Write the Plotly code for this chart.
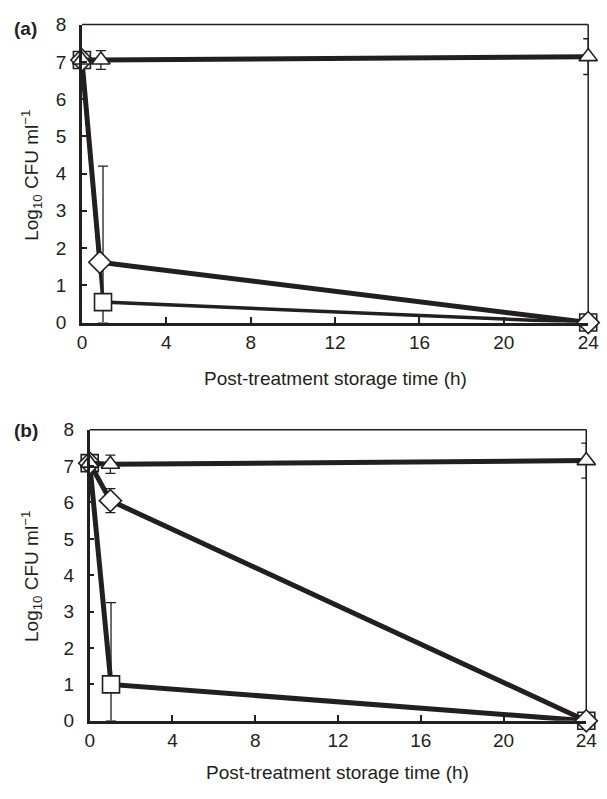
import plotly.graph_objects as go

W, H = 607, 799
INK = "#231f20"
FONT = "Liberation Sans, Arial, sans-serif"

# ---------- data ----------
# Panel (a)
a_tri_x = [0, 0.9, 24]
a_tri_y = [7.05, 7.05, 7.14]
a_tri_err = [0.0, 0.25, 0.48]

a_dia_x = [0, 0.85, 24]
a_dia_y = [7.05, 1.62, 0.0]
a_dia_err = [0.0, 0.15, 0.0]

a_sq_x = [0, 1.0, 24]
a_sq_y = [7.05, 0.55, 0.0]
a_sq_err_plus = [0.0, 3.65, 0.0]
a_sq_err_minus = [0.0, 0.55, 0.0]

# Panel (b)
b_tri_x = [0, 1.0, 24]
b_tri_y = [7.08, 7.05, 7.15]
b_tri_err = [0.0, 0.25, 0.48]

b_dia_x = [0, 1.0, 24]
b_dia_y = [7.08, 6.05, 0.0]
b_dia_err = [0.0, 0.33, 0.0]

b_sq_x = [0, 1.03, 24]
b_sq_y = [7.08, 1.0, 0.0]
b_sq_err_plus = [0.0, 2.25, 0.0]
b_sq_err_minus = [0.0, 1.0, 0.0]

x_ticks = [0, 4, 8, 12, 16, 20, 24]
y_ticks = [0, 1, 2, 3, 4, 5, 6, 7, 8]

x_title = "Post-treatment storage time (h)"
y_title = "Log<sub>10</sub> CFU ml<sup>−1</sup>"

fig = go.Figure()


def add_series(x, y, symbol, lw, xa, ya, plus, minus, size):
    fig.add_trace(go.Scatter(
        x=x, y=y, mode="lines+markers", xaxis=xa, yaxis=ya,
        line=dict(color=INK, width=lw),
        marker=dict(symbol=symbol, size=size, color="white",
                    line=dict(color=INK, width=1.6)),
        error_y=dict(type="data", symmetric=False, array=plus, arrayminus=minus,
                     color=INK, thickness=1.3, width=5),
        cliponaxis=False, showlegend=False,
    ))


# panel (a)
add_series(a_sq_x, a_sq_y, "square", 3.5, "x", "y", a_sq_err_plus, a_sq_err_minus, 17)
add_series(a_dia_x, a_dia_y, "diamond", 5, "x", "y", a_dia_err, a_dia_err, 17)
add_series(a_tri_x, a_tri_y, "triangle-up", 5, "x", "y", a_tri_err, a_tri_err, 16)
# panel (b)
add_series(b_sq_x, b_sq_y, "square", 5, "x2", "y2", b_sq_err_plus, b_sq_err_minus, 17)
add_series(b_dia_x, b_dia_y, "diamond", 5, "x2", "y2", b_dia_err, b_dia_err, 17)
add_series(b_tri_x, b_tri_y, "triangle-up", 5, "x2", "y2", b_tri_err, b_tri_err, 16)


def px_x(p):
    return p / W


def px_y(p):
    return 1 - p / H


TICKFONT = dict(size=19, color=INK, family=FONT)
xa = dict(range=[0, 24], tickvals=x_ticks, ticks="inside", ticklen=6, tickwidth=1.5,
          tickcolor=INK, showline=True, linewidth=2.5, linecolor=INK,
          showgrid=False, zeroline=False, tickfont=TICKFONT,
          ticklabelstandoff=1, ticklabeloverflow="allow")
ya = dict(range=[0, 8], tickvals=y_ticks, ticks="inside", ticklen=5, tickwidth=1.5,
          tickcolor=INK, showline=True, linewidth=2.5, linecolor=INK,
          showgrid=False, zeroline=False, tickfont=TICKFONT,
          ticklabelstandoff=9, ticklabeloverflow="allow")

fig.update_layout(
    width=W, height=H,
    margin=dict(l=0, r=0, t=0, b=0),
    paper_bgcolor="white", plot_bgcolor="white",
    font=dict(family=FONT, color=INK),
    xaxis=dict(xa, domain=[px_x(79), px_x(599)], anchor="y"),
    yaxis=dict(ya, domain=[px_y(321), px_y(15)], anchor="x"),
    xaxis2=dict(xa, domain=[px_x(87), px_x(597)], anchor="y2"),
    yaxis2=dict(ya, domain=[px_y(730), px_y(431)], anchor="x2"),
)

# thin top/right frame lines
for xr, yr in [("x domain", "y domain"), ("x2 domain", "y2 domain")]:
    fig.add_shape(type="line", xref=xr, yref=yr, x0=0, x1=1, y0=1, y1=1,
                  line=dict(color=INK, width=1.5), layer="below")
    fig.add_shape(type="line", xref=xr, yref=yr, x0=1, x1=1, y0=0, y1=1,
                  line=dict(color=INK, width=1.5), layer="below")

TFONT = dict(size=19, color=INK, family=FONT)
ann = []
# x titles
ann.append(dict(text=x_title, x=px_x(339), y=px_y(378), xref="paper", yref="paper",
                showarrow=False, font=TFONT, xanchor="center", yanchor="middle"))
ann.append(dict(text=x_title, x=px_x(342), y=px_y(783), xref="paper", yref="paper",
                showarrow=False, font=TFONT, xanchor="center", yanchor="middle"))
# y titles
ann.append(dict(text=y_title, x=px_x(27), y=px_y(170), xref="paper", yref="paper",
                showarrow=False, textangle=-90, font=TFONT,
                xanchor="center", yanchor="middle"))
ann.append(dict(text=y_title, x=px_x(27), y=px_y(582), xref="paper", yref="paper",
                showarrow=False, textangle=-90, font=TFONT,
                xanchor="center", yanchor="middle"))
# panel labels
ann.append(dict(text="<b>(a)</b>", x=px_x(7), y=px_y(19), xref="paper", yref="paper",
                showarrow=False, font=TFONT, xanchor="left", yanchor="middle"))
ann.append(dict(text="<b>(b)</b>", x=px_x(7), y=px_y(432), xref="paper", yref="paper",
                showarrow=False, font=TFONT, xanchor="left", yanchor="middle"))
fig.update_layout(annotations=ann)

fig.write_html(
    "out.html",
    config={"displayModeBar": False},
    post_script="document.body.style.margin='0';document.body.style.overflow='hidden';",
)
